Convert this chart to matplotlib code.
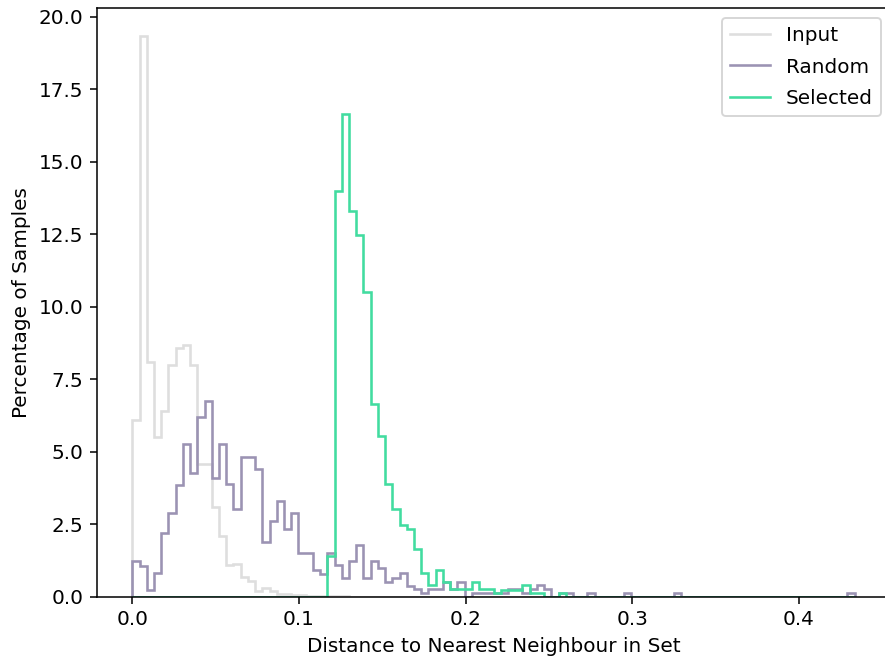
import numpy as np
import matplotlib
matplotlib.use("Agg")
import matplotlib.pyplot as plt

plt.rcParams["font.size"] = 10.45

# histogram bins shared by all three sets (100 bins)
bin_edges = np.linspace(0.0, 0.4335, 101)

# percentage of samples per bin
input_pct = [6.1, 19.35, 8.1, 5.5, 6.4, 8.0, 8.6, 8.7, 8.0, 4.6,
             4.6, 3.1, 2.1, 1.1, 1.15, 0.7, 0.55, 0.22, 0.3, 0.2,
             0.12, 0.1, 0.08, 0.06, 0.05, 0.04, 0.03, 0.03, 0.02, 0.02,
             0.01, 0.01, 0.01, 0.01] + [0.0] * 66

random_pct = [1.24, 1.08, 0.24, 0.82, 2.2, 2.9, 3.86, 5.27, 4.29, 6.22,
              6.77, 4.11, 5.27, 3.89, 3.02, 4.84, 4.84, 4.41, 1.91, 2.63,
              3.31, 2.34, 2.89, 1.5, 1.5, 0.93, 0.8, 1.5, 1.1, 0.67,
              1.24, 1.79, 0.67, 1.24, 0.99, 0.53, 0.67, 0.84, 0.39, 0.27,
              0.13, 0.27, 0.27, 0.53, 0.27, 0.53, 0.0, 0.13, 0.13, 0.13,
              0.13, 0.13, 0.27, 0.27, 0.13, 0.27, 0.41, 0.27, 0.0, 0.13,
              0.13, 0.0, 0.0, 0.13, 0.0, 0.0, 0.0, 0.0, 0.13, 0.0,
              0.0, 0.0, 0.0, 0.0, 0.0, 0.13, 0.0, 0.0, 0.0, 0.0,
              0.0, 0.0, 0.0, 0.0, 0.0, 0.0, 0.0, 0.0, 0.0, 0.0,
              0.0, 0.0, 0.0, 0.0, 0.0, 0.0, 0.0, 0.0, 0.0, 0.13]

selected_pct = [0.0] * 27 + [
    1.4, 14.0, 16.65, 13.3, 12.47, 10.53, 6.66, 5.54, 3.88, 3.05,
    2.48, 2.34, 1.66, 0.83, 0.4, 0.94, 0.53, 0.27, 0.27, 0.27,
    0.53, 0.27, 0.27, 0.13, 0.24, 0.24, 0.24, 0.41, 0.13, 0.13,
    0.0, 0.0, 0.13] + [0.0] * 40

labels = ["Input", "Random", "Selected"]
colors = ["#dedede", "#9b93b3", "#42dca0"]

fig = plt.figure(figsize=(885 / 138.3, 664 / 138.3), dpi=138.3)
# axes runs a little past the right edge (the reference looks cropped there)
ax = fig.add_axes([97 / 885, 67 / 664, 794 / 885, 589 / 664])

for vals, lab, col in zip([input_pct, random_pct, selected_pct], labels, colors):
    ax.stairs(vals, bin_edges, color=col, label=lab, linewidth=1.35)

ax.set_xlim(-0.0212, 0.4553)
ax.set_ylim(0, 20.31)
ax.set_yticks(np.arange(0, 20.01, 2.5))
ax.set_xticks([0.0, 0.1, 0.2, 0.3, 0.4])
ax.set_xlabel("Distance to Nearest Neighbour in Set")
ax.set_ylabel("Percentage of Samples")
ax.legend(loc="upper right", labelspacing=0.62)

plt.savefig("out.png", dpi=138.3)
plt.close()
